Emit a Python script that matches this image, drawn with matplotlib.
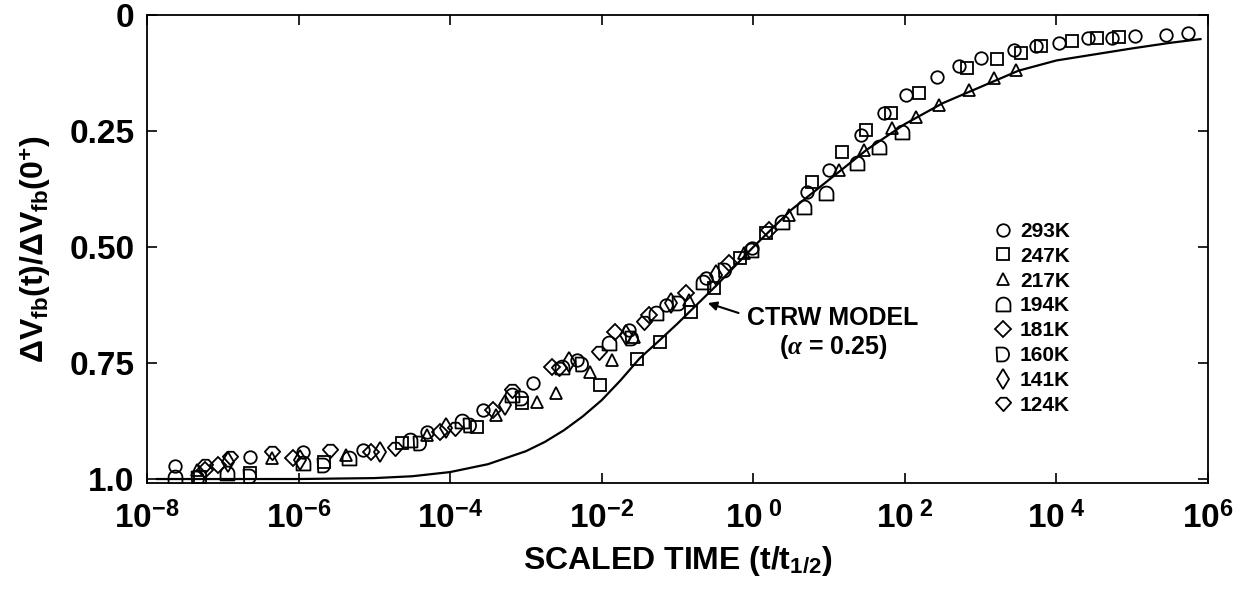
import numpy as np
import matplotlib
matplotlib.use('Agg')
import matplotlib.pyplot as plt
from matplotlib.path import Path

plt.rcParams['font.family'] = ['Liberation Sans', 'DejaVu Sans']
plt.rcParams['font.weight'] = 'bold'
plt.rcParams['axes.labelweight'] = 'bold'
plt.rcParams['mathtext.fontset'] = 'custom'
plt.rcParams['mathtext.rm'] = 'Liberation Sans:bold'
plt.rcParams['mathtext.bf'] = 'Liberation Sans:bold'
plt.rcParams['mathtext.sf'] = 'Liberation Sans:bold'
plt.rcParams['mathtext.it'] = 'Liberation Serif:italic'

# CTRW model curve (log10 of scaled time, normalised shift)
curve_logt = [-7.87, -6, -5, -4.5, -4, -3.5, -3, -2.75, -2.5, -2.25, -2, -1.75, -1.5, -1.25, -1,
              -0.5, 0, 0.5, 1, 1.5, 2, 2.5, 3, 3.5, 4, 4.5, 5, 5.5, 5.9]
curve_val = [1.0, 1.0, 0.998, 0.994, 0.985, 0.968, 0.94, 0.92, 0.895, 0.865, 0.83, 0.787, 0.74,
             0.703, 0.665, 0.585, 0.5, 0.42, 0.355, 0.29, 0.235, 0.19, 0.155, 0.12, 0.098,
             0.085, 0.072, 0.06, 0.052]

labels = ['293K', '247K', '217K', '194K', '181K', '160K', '141K', '124K']

logt_293 = [-7.63, -6.64, -5.94, -5.15, -4.31, -3.57, -2.91, -2.33, -1.64, -1.15, -0.62, -0.02,
            0.71, 1.0, 1.42, 1.72, 2.01, 2.42, 2.71, 3.01, 3.44, 3.73, 4.03, 4.42, 4.73, 5.04,
            5.44, 5.74]
val_293 = [0.972, 0.953, 0.942, 0.937, 0.899, 0.851, 0.793, 0.744, 0.679, 0.625, 0.567, 0.502,
           0.381, 0.334, 0.259, 0.211, 0.172, 0.134, 0.110, 0.093, 0.075, 0.067, 0.060, 0.050,
           0.050, 0.045, 0.043, 0.039]

logt_247 = [-7.30, -6.64, -5.66, -4.63, -3.65, -3.05, -2.02, -1.54, -1.23, -0.82, -0.52, -0.17,
            0.17, 0.77, 1.17, 1.49, 1.82, 2.18, 2.82, 3.21, 3.53, 3.80, 4.20, 4.53, 4.82]
val_247 = [0.996, 0.987, 0.963, 0.922, 0.888, 0.836, 0.797, 0.741, 0.705, 0.640, 0.588, 0.524,
           0.470, 0.360, 0.295, 0.248, 0.211, 0.168, 0.114, 0.095, 0.082, 0.067, 0.056, 0.050,
           0.047]

logt_217 = [-7.34, -6.35, -5.37, -4.31, -3.39, -2.86, -2.60, -2.16, -1.87, -1.57, -0.85, -0.12,
            0.47, 1.13, 1.46, 1.83, 2.14, 2.45, 2.84, 3.17, 3.46]
val_217 = [0.981, 0.955, 0.948, 0.905, 0.862, 0.834, 0.815, 0.769, 0.744, 0.694, 0.614, 0.513,
           0.431, 0.334, 0.291, 0.244, 0.220, 0.194, 0.162, 0.136, 0.118]

logt_194 = [-7.63, -6.95, -5.94, -5.33, -4.53, -3.84, -3.18, -2.52, -1.90, -1.28, -0.67, -0.03,
            0.38, 0.67, 0.96, 1.37, 1.66, 1.96]
val_194 = [0.996, 0.987, 0.966, 0.955, 0.916, 0.875, 0.819, 0.759, 0.707, 0.642, 0.575, 0.506,
           0.446, 0.414, 0.384, 0.319, 0.284, 0.252]

logt_181 = [-7.24, -7.06, -6.08, -5.04, -4.14, -3.44, -2.65, -1.83, -1.37, -0.89, -0.32, 0.21]
val_181 = [0.981, 0.970, 0.955, 0.942, 0.899, 0.851, 0.759, 0.683, 0.647, 0.599, 0.534, 0.463]

logt_160 = [-7.33, -6.64, -5.66, -4.40, -3.74, -3.05, -2.26, -1.60, -0.98, -0.38]
val_160 = [0.998, 0.994, 0.970, 0.922, 0.884, 0.825, 0.752, 0.696, 0.621, 0.550]

logt_141 = [-6.93, -5.98, -4.93, -4.05, -3.28, -2.43, -1.68, -1.08, -0.49]
val_141 = [0.963, 0.959, 0.942, 0.890, 0.841, 0.748, 0.690, 0.621, 0.560]

logt_124 = [-7.24, -6.91, -6.35, -5.59, -4.73, -3.94, -3.18, -2.56, -2.03, -1.44]
val_124 = [0.970, 0.953, 0.942, 0.938, 0.933, 0.890, 0.808, 0.761, 0.726, 0.662]

xtick_exp = [-8, -6, -4, -2, 0, 2, 4, 6]
xtick_labels = [r'$10^{-8}$', r'$10^{-6}$', r'$10^{-4}$', r'$10^{-2}$', r'$10^{\ 0}$',
                r'$10^{\ 2}$', r'$10^{\ 4}$', r'$10^{6}$']
ytick_vals = [0, 0.25, 0.5, 0.75, 1.0]
ytick_labels = ['0', '0.25', '0.50', '0.75', '1.0']


def arch_marker():
    t = np.linspace(0, np.pi, 16)
    pts = [(-1, -1), (1, -1), (1, 0)] + list(zip(np.cos(t), np.sin(t))) + [(-1, -1)]
    return Path(pts, closed=True)


def d_marker():
    t = np.linspace(np.pi / 2, -np.pi / 2, 16)
    pts = [(-0.9, -1.0), (-1, 1), (-0.1, 1)] + list(zip(0.9 * np.cos(t) - 0.1, np.sin(t)))[1:] + [(-0.9, -1.0)]
    return Path(pts, closed=True)


def blunt_diamond():
    pts = [(0, -1), (1, 0.1), (0.4, 0.75), (-0.4, 0.75), (-1, 0.1), (0, -1)]
    return Path(pts, closed=True)


series = [
    (logt_293, val_293, 'o', 9),
    (logt_247, val_247, 's', 8),
    (logt_217, val_217, '^', 9),
    (logt_194, val_194, arch_marker(), 10),
    (logt_181, val_181, 'D', 8),
    (logt_160, val_160, d_marker(), 10),
    (logt_141, val_141, 'd', 10),
    (logt_124, val_124, blunt_diamond(), 11),
]

fig = plt.figure(figsize=(12.52, 5.92), dpi=100)
ax = fig.add_axes([0.1174, 0.1841, 0.8475, 0.7906])

ax.plot(10.0 ** np.array(curve_logt), curve_val, color='k', lw=1.6, zorder=3)

for (lt, v, m, ms), lab in zip(series, labels):
    ax.plot(10.0 ** np.array(lt), v, linestyle='none', marker=m, markersize=ms,
            markerfacecolor='none', markeredgecolor='k', markeredgewidth=1.3,
            label=lab, zorder=4)

ax.set_xscale('log')
ax.set_xlim(1e-8, 1e6)
ax.set_ylim(1.0086, 0)
ax.set_xticks([10.0 ** e for e in xtick_exp])
ax.set_xticklabels(xtick_labels)
ax.xaxis.set_minor_locator(matplotlib.ticker.NullLocator())
ax.set_yticks(ytick_vals)
ax.set_yticklabels(ytick_labels)

ax.tick_params(axis='both', which='major', direction='in', length=7, width=1.2,
               top=True, right=True, labelsize=24)
ax.tick_params(axis='x', pad=14)
ax.tick_params(axis='y', pad=9)
for sp in ax.spines.values():
    sp.set_linewidth(1.3)

ax.set_xlabel(r'SCALED TIME (t/t$_{1/2}$)', fontsize=23, labelpad=6)
ax.set_ylabel(r'ΔV$_{\mathrm{fb}}$(t)/ΔV$_{\mathrm{fb}}$(0$^{+}$)', fontsize=23, labelpad=12)

ax.annotate('', xy=(10 ** -0.635, 0.619), xytext=(10 ** -0.16, 0.644),
            arrowprops=dict(arrowstyle='-|>', color='k', lw=1.5, mutation_scale=13))
ax.text(10 ** 1.05, 0.653, 'CTRW MODEL', ha='center', va='center', fontsize=18)
ax.text(10 ** 1.05, 0.716, r'($\alpha$ = 0.25)', ha='center', va='center', fontsize=18)

ax.legend(loc='upper left', bbox_to_anchor=(0.798, 0.558), frameon=False, fontsize=15,
          handlelength=0.9, handletextpad=0.35, labelspacing=0.28, borderpad=0,
          borderaxespad=0, markerscale=1.0)

fig.savefig('out.png', dpi=100)
